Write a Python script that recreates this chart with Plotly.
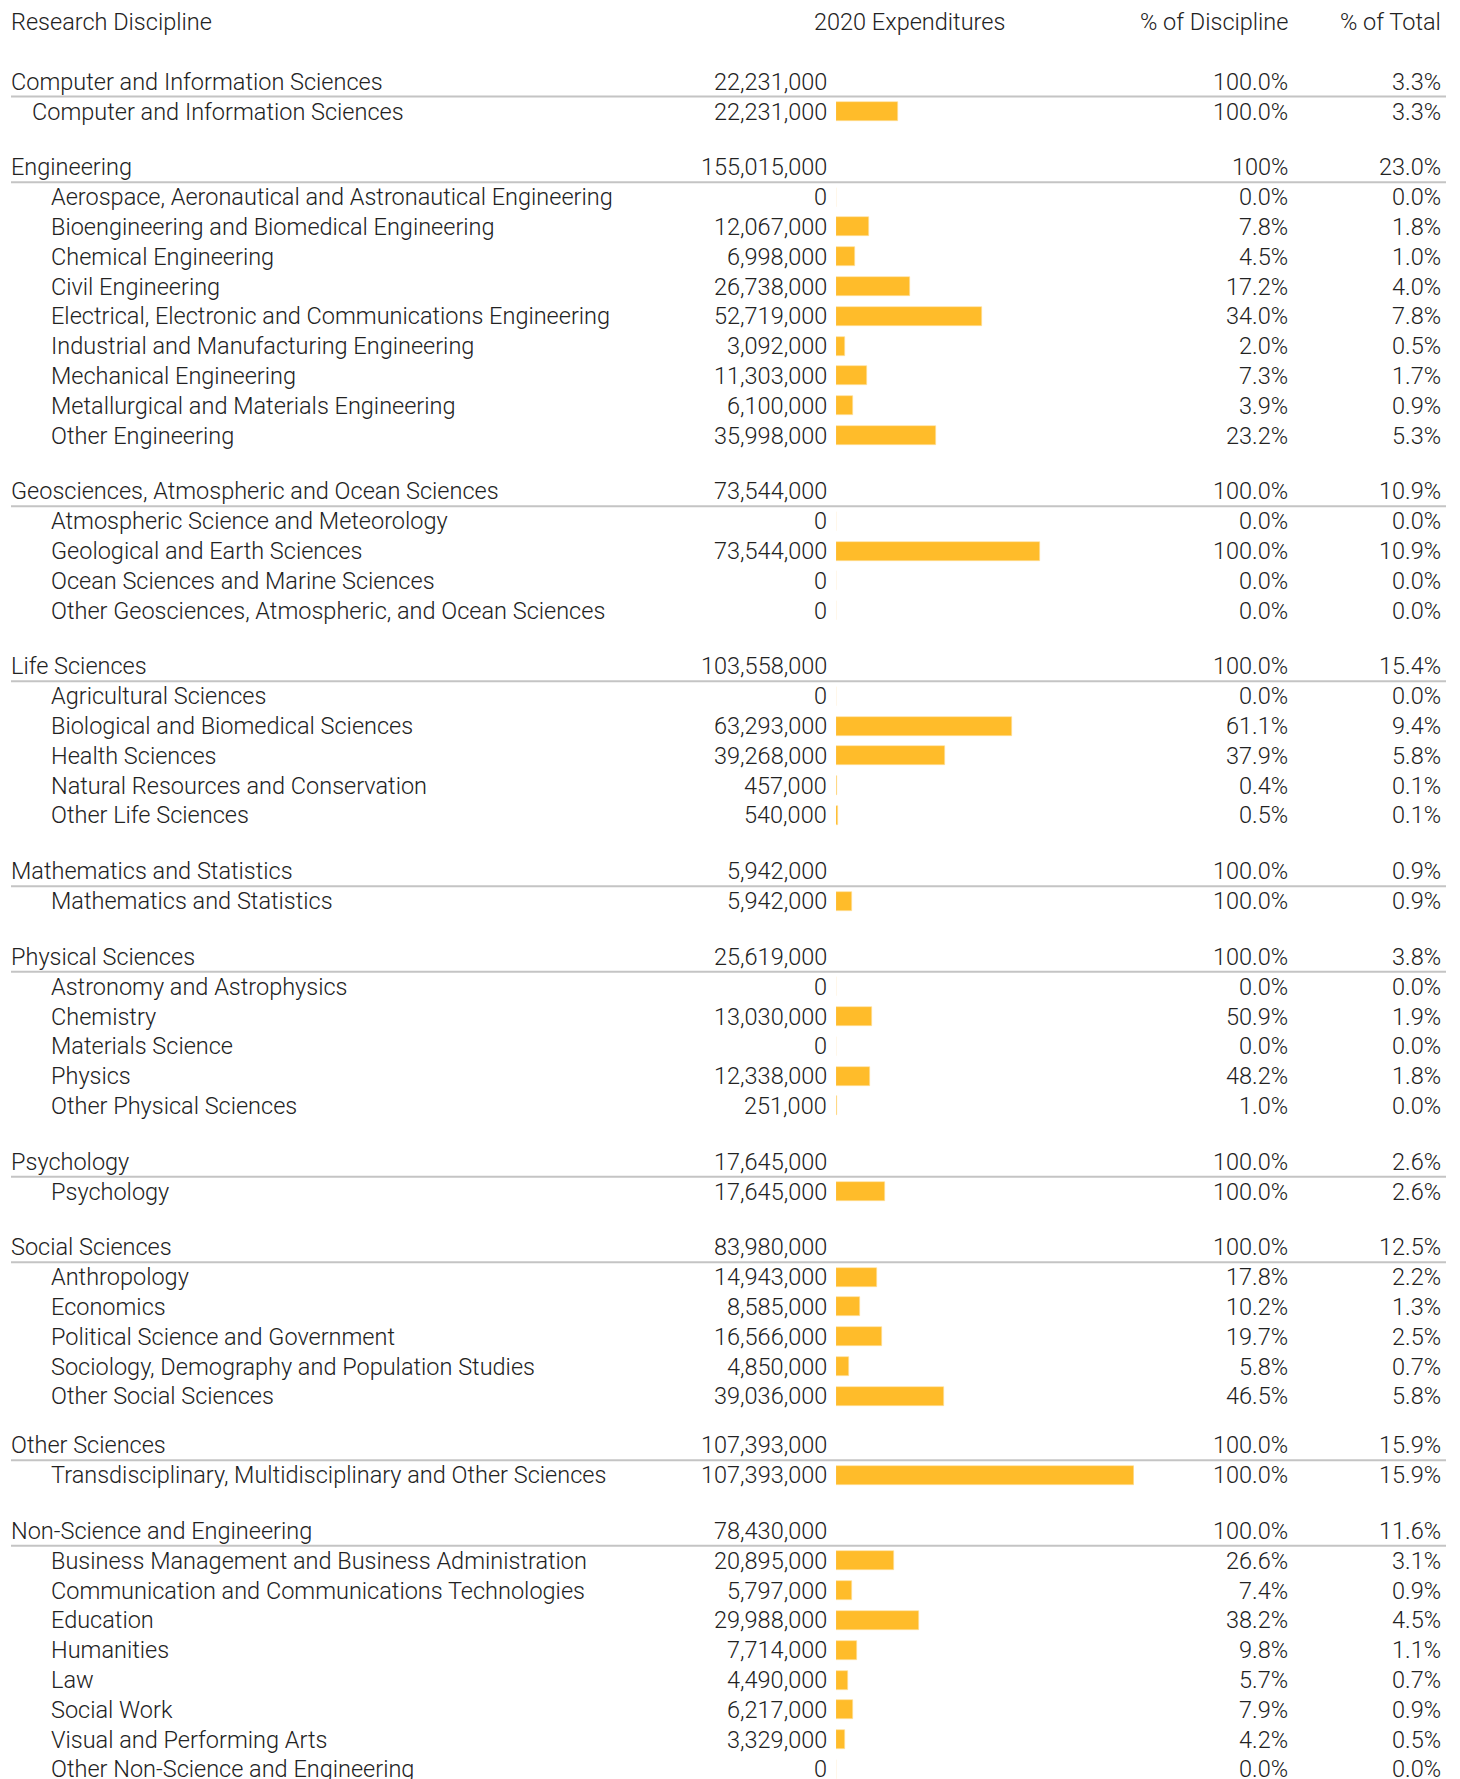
import plotly.graph_objects as go

# ---------------- data ----------------
groups = [
    "Computer and Information Sciences",
    "Engineering",
    "Geosciences, Atmospheric and Ocean Sciences",
    "Life Sciences",
    "Mathematics and Statistics",
    "Physical Sciences",
    "Psychology",
    "Social Sciences",
    "Other Sciences",
    "Non-Science and Engineering",
]
group_values = [22231000, 155015000, 73544000, 103558000, 5942000,
                25619000, 17645000, 83980000, 107393000, 78430000]
group_pct_discipline = ["100.0%", "100%", "100.0%", "100.0%", "100.0%",
                        "100.0%", "100.0%", "100.0%", "100.0%", "100.0%"]
group_pct_total = ["3.3%", "23.0%", "10.9%", "15.4%", "0.9%",
                   "3.8%", "2.6%", "12.5%", "15.9%", "11.6%"]

sub_group = [0,
             1, 1, 1, 1, 1, 1, 1, 1, 1,
             2, 2, 2, 2,
             3, 3, 3, 3, 3,
             4,
             5, 5, 5, 5, 5,
             6,
             7, 7, 7, 7, 7,
             8,
             9, 9, 9, 9, 9, 9, 9, 9]
sub_names = [
    "Computer and Information Sciences",
    "Aerospace, Aeronautical and Astronautical Engineering",
    "Bioengineering and Biomedical Engineering",
    "Chemical Engineering",
    "Civil Engineering",
    "Electrical, Electronic and Communications Engineering",
    "Industrial and Manufacturing Engineering",
    "Mechanical Engineering",
    "Metallurgical and Materials Engineering",
    "Other Engineering",
    "Atmospheric Science and Meteorology",
    "Geological and Earth Sciences",
    "Ocean Sciences and Marine Sciences",
    "Other Geosciences, Atmospheric, and Ocean Sciences",
    "Agricultural Sciences",
    "Biological and Biomedical Sciences",
    "Health Sciences",
    "Natural Resources and Conservation",
    "Other Life Sciences",
    "Mathematics and Statistics",
    "Astronomy and Astrophysics",
    "Chemistry",
    "Materials Science",
    "Physics",
    "Other Physical Sciences",
    "Psychology",
    "Anthropology",
    "Economics",
    "Political Science and Government",
    "Sociology, Demography and Population Studies",
    "Other Social Sciences",
    "Transdisciplinary, Multidisciplinary and Other Sciences",
    "Business Management and Business Administration",
    "Communication and Communications Technologies",
    "Education",
    "Humanities",
    "Law",
    "Social Work",
    "Visual and Performing Arts",
    "Other Non-Science and Engineering",
]
sub_values = [
    22231000,
    0, 12067000, 6998000, 26738000, 52719000, 3092000, 11303000, 6100000, 35998000,
    0, 73544000, 0, 0,
    0, 63293000, 39268000, 457000, 540000,
    5942000,
    0, 13030000, 0, 12338000, 251000,
    17645000,
    14943000, 8585000, 16566000, 4850000, 39036000,
    107393000,
    20895000, 5797000, 29988000, 7714000, 4490000, 6217000, 3329000, 0,
]
sub_pct_discipline = [
    "100.0%",
    "0.0%", "7.8%", "4.5%", "17.2%", "34.0%", "2.0%", "7.3%", "3.9%", "23.2%",
    "0.0%", "100.0%", "0.0%", "0.0%",
    "0.0%", "61.1%", "37.9%", "0.4%", "0.5%",
    "100.0%",
    "0.0%", "50.9%", "0.0%", "48.2%", "1.0%",
    "100.0%",
    "17.8%", "10.2%", "19.7%", "5.8%", "46.5%",
    "100.0%",
    "26.6%", "7.4%", "38.2%", "9.8%", "5.7%", "7.9%", "4.2%", "0.0%",
]
sub_pct_total = [
    "3.3%",
    "0.0%", "1.8%", "1.0%", "4.0%", "7.8%", "0.5%", "1.7%", "0.9%", "5.3%",
    "0.0%", "10.9%", "0.0%", "0.0%",
    "0.0%", "9.4%", "5.8%", "0.1%", "0.1%",
    "0.9%",
    "0.0%", "1.9%", "0.0%", "1.8%", "0.0%",
    "2.6%",
    "2.2%", "1.3%", "2.5%", "0.7%", "5.8%",
    "15.9%",
    "3.1%", "0.9%", "4.5%", "1.1%", "0.7%", "0.9%", "0.5%", "0.0%",
]
column_headers = ["Research Discipline", "2020 Expenditures", "% of Discipline", "% of Total"]

# ---------------- layout constants ----------------
PAGE_OFF = 8  # default body margin of the html page
W, H = 1460 - PAGE_OFF, 1779 - PAGE_OFF
STEP = 29.81
GROUP_GAP = 55.8
GAP_OVERRIDE = {"Other Sciences": 48.95}
FIRST_Y = 81.7 - PAGE_OFF
HEADER_Y = 21.5 - PAGE_OFF
X_NAME = 11 - PAGE_OFF
X_SUB_INDENT = 51 - PAGE_OFF
X_SUB_INDENT_FIRST = 31.8 - PAGE_OFF
X_VALUE = 827 - PAGE_OFF
X_HEAD_EXP = 909 - PAGE_OFF
X_BAR0 = 836 - PAGE_OFF
BAR_PX_MAX = 298
X_PCT_DISC = 1288 - PAGE_OFF
X_PCT_TOT = 1441 - PAGE_OFF
LINE_X0, LINE_X1 = 11 - PAGE_OFF, 1446 - PAGE_OFF
TEXT_COLOR = "#222222"
BAR_COLOR = "#FFBC2A"
LINE_COLOR = "#C4C4C4"
FONT = "Roboto"
FSIZE = 23.5

# compute row positions
rows = []  # (kind, index, y)
y = FIRST_Y
for gi, g in enumerate(groups):
    if gi > 0:
        y += GAP_OVERRIDE.get(g, GROUP_GAP) - STEP
    rows.append(("g", gi, y))
    for si, sg in enumerate(sub_group):
        if sg == gi:
            y += STEP
            rows.append(("s", si, y))
    y += STEP

def fmt(v):
    return f"{v:,}"

annotations = []

def add_text(x, yv, text, anchor):
    annotations.append(dict(
        x=x, y=yv, xref="x", yref="y", text=text, showarrow=False,
        xanchor=anchor, yanchor="middle", borderpad=0, borderwidth=0,
        font=dict(family=FONT, size=FSIZE, color=TEXT_COLOR, weight=300),
    ))

# header
add_text(X_NAME, HEADER_Y, column_headers[0], "left")
add_text(X_HEAD_EXP, HEADER_Y, column_headers[1], "center")
add_text(X_PCT_DISC, HEADER_Y, column_headers[2], "right")
add_text(X_PCT_TOT, HEADER_Y, column_headers[3], "right")

bar_y, bar_x = [], []
line_x, line_y = [], []
for kind, idx, yv in rows:
    if kind == "g":
        add_text(X_NAME, yv, groups[idx], "left")
        add_text(X_VALUE, yv, fmt(group_values[idx]), "right")
        add_text(X_PCT_DISC, yv, group_pct_discipline[idx], "right")
        add_text(X_PCT_TOT, yv, group_pct_total[idx], "right")
        ly = yv + STEP / 2
        line_x += [LINE_X0, LINE_X1, None]
        line_y += [ly, ly, None]
    else:
        indent = X_SUB_INDENT_FIRST if idx == 0 else X_SUB_INDENT
        add_text(indent, yv, sub_names[idx], "left")
        add_text(X_VALUE, yv, fmt(sub_values[idx]), "right")
        add_text(X_PCT_DISC, yv, sub_pct_discipline[idx], "right")
        add_text(X_PCT_TOT, yv, sub_pct_total[idx], "right")
        bar_y.append(yv)
        bar_x.append(sub_values[idx])

fig = go.Figure()
fig.add_trace(go.Bar(
    x=bar_x, y=bar_y, orientation="h", xaxis="x2", yaxis="y",
    width=19, marker=dict(color=BAR_COLOR, line=dict(color="#FFE3A0", width=0.6)),
    showlegend=False, hoverinfo="skip",
))
fig.add_trace(go.Scatter(
    x=line_x, y=line_y, mode="lines", xaxis="x", yaxis="y",
    line=dict(color=LINE_COLOR, width=2), hoverinfo="skip", showlegend=False,
))

max_val = max(sub_values)
fig.update_layout(
    width=W, height=H,
    margin=dict(l=0, r=0, t=0, b=0),
    paper_bgcolor="white", plot_bgcolor="rgba(0,0,0,0)",
    font=dict(family=FONT, size=FSIZE, color=TEXT_COLOR),
    xaxis=dict(domain=[0, 1], range=[0, W], visible=False, fixedrange=True),
    xaxis2=dict(domain=[X_BAR0 / W, (X_BAR0 + BAR_PX_MAX) / W],
                range=[0, max_val], visible=False, anchor="y", fixedrange=True),
    yaxis=dict(domain=[0, 1], range=[H, 0], visible=False, anchor="x", fixedrange=True),
    annotations=annotations,
    bargap=0,
)
fig.write_html("out.html")
